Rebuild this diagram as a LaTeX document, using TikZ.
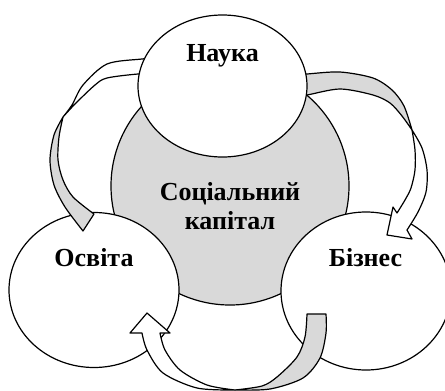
\documentclass[tikz,border=0pt]{standalone}
\usepackage{fontspec}
\setmainfont{Liberation Serif}
\usetikzlibrary{shapes.geometric}
\definecolor{ringgray}{HTML}{D9D9D9}

\begin{document}
\begin{tikzpicture}[x=1pt,y=-1pt,line width=1.2pt,line join=round,
        bubble/.style={draw,fill=white,ellipse,inner sep=0pt},
        hub/.style={draw,fill=ringgray,circle,inner sep=0pt,minimum size=238pt},
        caption/.style={font=\fontsize{26}{29}\selectfont\bfseries,align=center,inner sep=0pt},
        band/.style={draw,fill=ringgray},
        blade/.style={draw,fill=white}]
        \useasboundingbox (0,0) rectangle (445,391);

        \node[hub] (kapital) at (230,186) {};
        \node[bubble,minimum width=170pt,minimum height=155pt] (osvita) at (94,290) {};
        \node[bubble,minimum width=170pt,minimum height=158pt] (biznes) at (366,291) {};

        \coordinate (K1) at (63,117);
        \coordinate (A1) at (83,231);
        \coordinate (B1) at (94,214);

        \coordinate (K2) at (412,130);
        \coordinate (A2) at (397,213);
        \coordinate (B2) at (407,230);

        \coordinate (K3) at (235,390);
        \coordinate (A3) at (307,314);
        \coordinate (B3) at (326,314);
        \coordinate (C3) at (142,333);
        \coordinate (D3) at (160,333);

        \draw[blade] plot[smooth] coordinates {(165,57) (142,59) (107,64) (83,85) (72,105) (K1)}
                -- plot[smooth] coordinates {(K1) (75,104) (95,85) (107,78) (138,74) (165,73)} -- cycle;
        \draw[band] plot[smooth] coordinates {(K1) (54,135) (50,160) (54,185) (65,207) (A1)} -- (B1)
                -- plot[smooth] coordinates {(B1) (73,197) (63,180) (58,160) (59,137) (K1)} -- cycle;

        \draw[band] plot[smooth] coordinates {(295,75) (307,74) (340,72) (373,78) (392,90) (404,106) (K2)}
                -- plot[smooth] coordinates {(K2) (402,116) (390,103) (373,95) (340,89) (307,95) (295,96)} -- cycle;
        \draw[blade] plot[smooth] coordinates {(K2) (415,150) (415,170) (411,188) (405,200) (A2)}
                -- (393,207) -- (387,235) -- (412,239) -- (B2)
                -- plot[smooth] coordinates {(B2) (418,212) (426,192) (427,170) (422,148) (K2)} -- cycle;

        \draw[band] plot[smooth] coordinates {(B3) (326,333) (320,358) (303,378) (270,389) (K3)}
                -- plot[smooth] coordinates {(K3) (262,386) (277,377) (297,357) (305,337) (A3)} -- cycle;
        \draw[blade] plot[smooth] coordinates {(K3) (197,388) (163,373) (147,350) (C3)}
                -- (130,333) -- (147,313) -- (170,333) -- (D3)
                -- plot[smooth] coordinates {(D3) (165,350) (180,370) (207,385) (K3)} -- cycle;

        \node[bubble,minimum width=169pt,minimum height=142pt] (nauka) at (222.5,86) {};

        \node[caption,anchor=base] (naukaText) at (222.5,61) {Наука};
        \node[caption] (kapitalText) at (230,206) {Соціальний\\капітал};
        \node[caption,anchor=base] (osvitaText) at (94,266) {Освіта};
        \node[caption,anchor=base] (bizneText) at (365.5,266) {Бізнес};
\end{tikzpicture}
\end{document}
